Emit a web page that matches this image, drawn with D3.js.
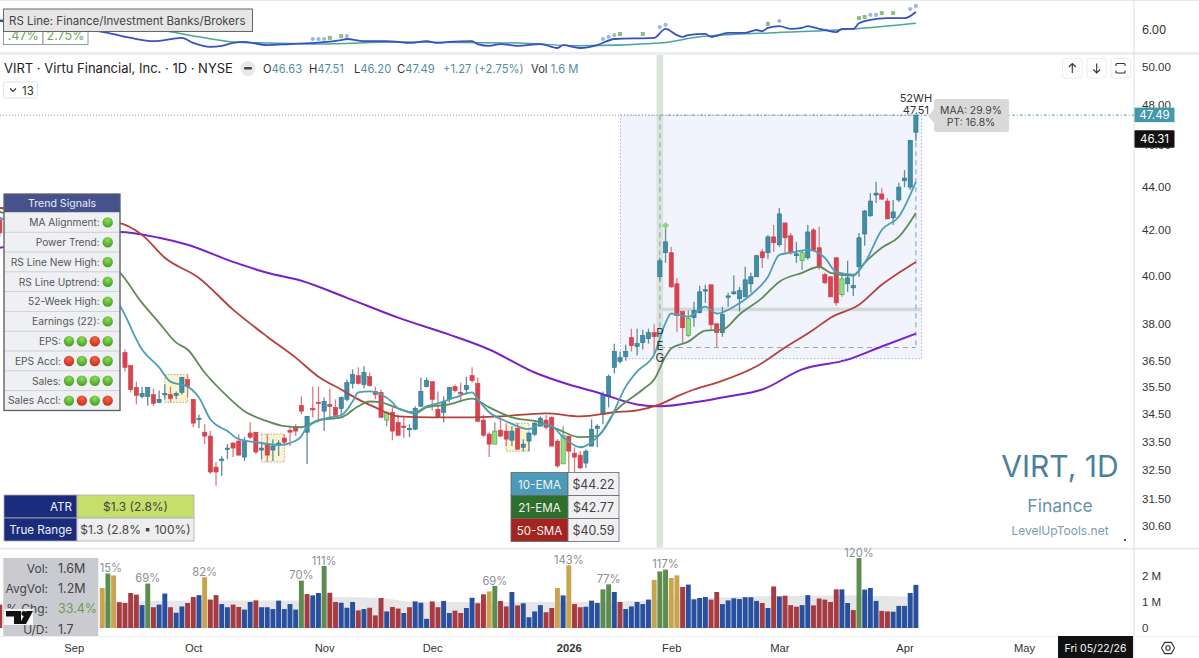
<!DOCTYPE html>
<html>
<head>
<meta charset="utf-8">
<script src="https://cdn.jsdelivr.net/npm/d3@7"></script>
<style>
  html, body { margin: 0; background: #fff; overflow: hidden; }
  svg { display: block; font-family: Inter, "Open Sans", sans-serif; }
  svg text { fill: #333; }
</style>
</head>
<body>
<svg id="chart" width="1199" height="658"></svg>
<script>
/* ------------------------------
  data
------------------------------ */

// 21 bars sit behind the signals panel and cannot be read
var hidden = Array(21).fill(null);

var opens = [42.46, ...hidden,
  36.84,36.33,35.49,35.15,35.15,35.22,34.93,35.22,35.22,35.19,
  35.30,35.79,35.04,34.30,33.83,33.69,32.59,32.83,33.22,33.44,
  33.51,32.94,33.80,33.83,33.19,33.40,33.19,33.37,33.62,33.90,
  34.01,34.81,33.83,34.70,34.93,34.60,34.85,34.74,34.70,35.04,
  35.64,35.94,35.60,35.90,35.34,35.30,34.27,34.56,34.19,34.05,
  33.94,33.94,34.78,35.52,35.71,34.67,34.56,35.04,35.52,35.30,
  35.41,35.94,35.64,34.27,33.76,33.40,33.90,33.87,33.54,33.97,
  33.29,33.51,33.76,34.05,34.27,34.37,33.51,32.70,33.69,33.08,
  33.01,32.73,33.33,33.97,34.48,35.15,36.26,36.49,36.68,37.43,
  37.08,37.23,37.39,37.63,39.95,40.99,40.99,39.65,38.49,37.51,
  38.24,38.45,39.36,39.61,37.99,37.63,39.10,39.23,39.02,39.10,
  39.65,39.95,41.03,40.99,41.69,41.34,42.32,41.74,40.86,40.64,
  40.77,42.00,41.21,40.04,39.95,40.77,39.19,39.65,39.48,40.38,
  41.82,42.64,43.60,43.65,43.32,42.55,43.37,44.27,43.97,46.63];

var highs = [42.60, ...hidden,
  36.96,36.33,35.71,35.52,35.49,35.45,35.37,35.60,35.52,35.34,
  35.90,35.98,35.04,34.48,34.12,33.87,32.77,32.97,33.40,33.47,
  33.76,33.65,34.19,33.83,33.44,33.76,33.58,33.54,33.76,34.05,
  34.12,35.15,34.41,35.52,35.52,35.11,35.45,35.04,35.15,35.79,
  36.18,36.26,36.30,36.06,35.52,35.41,34.60,34.74,34.48,34.41,
  34.12,34.78,35.87,35.87,35.71,35.34,35.15,35.52,35.60,35.67,
  35.90,36.26,35.87,34.48,33.83,34.19,34.37,34.12,34.05,34.16,
  33.58,33.83,34.19,34.41,34.45,34.41,33.58,34.05,33.69,33.29,
  33.15,33.22,34.30,34.12,35.34,35.98,37.19,36.88,37.15,37.79,
  37.79,37.75,37.79,37.99,40.77,42.09,41.25,39.90,38.53,38.53,
  38.90,39.57,39.61,39.61,37.99,38.69,39.27,40.00,39.52,40.38,
  40.12,40.90,41.16,41.78,42.23,43.00,42.32,41.87,41.47,41.08,
  42.23,42.09,42.14,40.12,39.95,40.77,40.04,40.64,40.04,41.87,
  42.91,43.69,44.22,43.92,43.46,43.37,44.18,44.78,46.26,47.51];

var lows = [41.70, ...hidden,
  36.10,35.30,34.85,35.07,34.81,34.78,34.89,35.04,34.93,35.04,
  35.22,35.11,34.01,33.97,33.40,32.35,31.95,32.28,32.87,32.94,
  33.01,32.80,33.58,33.05,32.87,32.77,32.80,32.98,33.33,33.33,
  33.69,34.48,32.70,34.37,34.19,33.87,34.30,34.37,34.37,34.96,
  35.45,35.60,35.45,35.52,35.04,34.37,34.05,33.54,33.69,33.62,
  33.65,33.90,34.78,35.49,34.63,34.37,34.19,34.93,35.30,34.93,
  35.22,35.67,34.19,33.65,32.94,33.40,33.65,33.33,33.33,33.19,
  33.15,33.15,33.69,34.05,33.94,33.33,32.56,32.70,32.42,32.42,
  32.52,32.56,33.33,33.29,34.12,34.74,36.02,36.41,36.52,36.88,
  36.72,36.96,37.19,36.76,39.78,40.55,39.48,37.67,37.23,37.47,
  37.87,38.41,38.85,37.75,37.04,37.47,38.69,39.19,38.49,39.10,
  39.27,39.95,40.33,40.73,41.03,41.25,40.99,40.90,40.55,40.25,
  40.68,41.08,40.25,39.65,39.10,38.73,39.10,39.31,39.14,39.95,
  41.30,42.60,43.23,43.37,42.50,42.23,43.28,43.97,43.83,46.20];

var closes = [41.87, ...hidden,
  36.26,35.41,35.19,35.26,35.49,34.89,35.04,35.26,35.07,35.26,
  35.87,35.52,34.16,34.34,33.69,32.42,32.42,32.87,33.26,33.26,
  33.01,33.54,33.65,33.12,33.26,33.01,33.33,33.44,33.47,33.83,
  33.87,34.60,34.41,34.67,34.89,34.96,34.78,34.45,35.11,35.67,
  35.98,35.64,36.06,35.56,35.22,34.37,34.56,33.87,33.72,34.01,
  33.97,34.70,35.34,35.75,35.04,34.37,34.93,35.49,35.37,35.26,
  35.56,35.75,34.23,33.72,33.40,33.87,33.69,33.58,33.87,33.22,
  33.40,33.80,34.16,34.34,34.01,33.33,32.63,33.72,33.15,32.94,
  32.56,33.15,33.94,34.05,35.22,35.90,36.88,36.64,36.88,37.11,
  37.19,37.51,37.63,37.47,40.64,41.47,39.52,38.32,37.83,38.20,
  38.53,39.31,39.40,37.95,37.63,38.37,39.14,39.31,39.36,39.82,
  39.95,40.86,40.77,41.69,41.43,42.73,41.65,41.03,40.94,40.99,
  41.91,41.08,40.38,39.69,39.10,38.85,39.86,39.90,39.57,41.65,
  42.86,43.32,43.69,43.41,42.50,42.82,43.97,44.40,46.22,47.49];

var limeBars = [68, 87, 99, 121, 141, 148];

// volume in millions, R down / B up / G big / Y pocket
var volumes = [0.89, ...Array(17).fill(null),
  1.52,2.07,2.00,0.98,0.95,1.33,1.27,0.87,1.69,0.79,0.89,1.31,0.79,0.58,0.82,0.95,1.18,1.25,1.93,1.08,
  1.25,0.91,0.79,0.89,0.80,0.70,0.99,1.05,0.79,0.79,0.72,1.04,0.72,0.91,0.70,1.80,1.29,1.24,1.33,2.36,
  1.34,0.99,0.96,0.77,0.99,0.67,0.72,0.77,0.48,1.14,0.63,0.80,0.74,0.57,0.79,1.01,0.96,0.35,1.01,0.79,
  1.03,0.57,0.66,0.57,0.76,1.15,0.94,1.28,1.39,1.60,1.03,0.82,1.37,0.86,0.94,0.41,0.63,0.87,0.60,0.76,
  1.52,1.24,2.38,0.91,0.79,0.81,1.04,0.95,1.47,1.66,1.37,0.99,0.72,0.82,0.99,0.91,1.08,1.83,2.15,2.22,
  1.90,2.00,1.56,1.65,1.09,1.14,1.18,1.08,1.37,0.91,1.05,1.13,1.10,1.17,1.17,1.03,0.95,0.76,1.58,1.20,
  1.23,0.87,0.81,0.87,1.25,0.86,1.12,1.08,0.99,1.47,1.47,0.95,0.68,2.66,1.46,1.52,1.03,0.65,0.63,0.62,
  0.84,0.84,1.33,1.64];

var volumeKinds = ("R" + " ".repeat(17) +
  "YGYRRRRBGRBBRBBRRBYR" +
  "RBBRRBBRBBBBBBBGRBBG" +
  "RRBBBRBRRRBRRBRBBBRR" +
  "BBRRBBRRYGRRBRBBBBRR" +
  "YBYRRBBBGGBRBBBBBYGG" +
  "YYRBBBBRRBBBBBBBRBRB" +
  "RRRBBRRRRRBBRGBBBRRB" +
  "BBBB").split("");

var volumeAvgBars = [18, 30, 53, 58, 67, 72, 87, 103, 128, 141, 150, 161];
var volumeAvgValues = [1.00, 1.04, 1.05, 1.18, 1.14, 1.01, 0.99, 0.99, 1.17, 1.23, 1.24, 1.18];

var volumeLabelBars = [19, 26, 36, 53, 57, 87, 100, 107, 117, 151];
var volumeLabels = ["15%", "69%", "82%", "70%", "111%", "69%", "143%", "77%", "117%", "120%"];

var ema10Bars = [0,21,25,28,30,33,35,37,40,42,45,49,51,53,54,58,60,62,63,65,67,69,70,73,75,77,80,83,84,86,89,93,95,97,99,102,104,107,110,112,115,117,118,121,124,126,129,132,135,137,139,142,145,147,150,152,155,158,161];
var ema10Values = [42.55,38.77,36.96,36.26,35.71,35.52,35.11,34.30,33.87,33.58,33.47,33.37,33.44,33.69,34.01,34.37,34.45,34.96,35.30,35.34,35.22,34.93,34.70,34.56,34.78,34.89,35.11,35.30,35.04,34.56,34.23,33.94,34.12,34.05,33.65,33.29,33.47,34.19,35.52,36.10,36.76,38.03,38.41,38.28,38.69,38.41,38.69,39.19,39.95,40.90,40.99,41.12,40.77,40.16,40.04,40.55,42.00,42.60,44.22];

var ema21Bars = [0,21,25,28,31,33,36,40,43,47,50,53,56,60,63,65,67,70,73,75,79,83,86,90,95,98,102,105,108,113,115,117,118,121,124,127,130,134,137,141,144,146,150,152,155,158,161];
var ema21Values = [42.82,40.16,38.85,38.03,37.23,36.96,36.06,35.15,34.60,34.23,34.05,34.01,34.27,34.37,34.78,34.96,34.93,34.70,34.52,34.74,34.85,35.07,34.74,34.37,34.19,33.94,33.65,33.69,34.56,35.41,35.79,36.68,37.00,37.27,37.71,37.75,38.37,39.06,39.74,40.12,40.38,40.12,40.00,40.55,41.21,41.69,42.77];

var sma50Bars = [0,21,25,29,35,41,47,52,56,60,63,66,70,76,82,88,96,102,108,112,116,119,122,126,133,138,143,146,151,155,158,161];
var sma50Values = [43.00,42.32,41.78,40.77,39.90,38.57,37.47,36.64,35.90,35.41,35.04,34.74,34.41,34.37,34.37,34.41,34.52,34.41,34.56,34.63,34.85,35.15,35.41,35.67,36.30,37.04,37.75,38.24,38.77,39.61,40.12,40.59];

var sma200Bars = [0,21,28,33,41,47,53,61,70,79,86,94,100,105,112,116,123,128,134,141,149,155,161];
var sma200Values = [41.21,41.91,41.65,41.34,40.59,40.12,39.78,39.06,38.24,37.55,36.96,36.06,35.60,35.30,34.85,34.78,34.96,35.15,35.41,36.18,36.56,37.08,37.59];

var rsBars = [0,19,23,27,32,34,37,39,41,43,47,51,56,60,61,64,68,70,72,75,77,79,83,84,86,88,91,95,98,99,102,105,108,115,117,119,120,121,124,125,128,131,133,134,135,137,139,141,142,144,145,147,148,150,151,153,156,159,161];
var rsValues = [6.25,5.92,5.78,5.69,5.78,5.64,5.53,5.56,5.64,5.67,5.58,5.61,5.65,5.72,5.75,5.69,5.69,5.67,5.64,5.69,5.64,5.67,5.69,5.61,5.56,5.61,5.56,5.61,5.50,5.58,5.50,5.58,5.75,5.78,6.03,5.86,5.81,5.86,5.89,5.81,5.92,5.92,6.00,5.97,6.06,6.11,6.03,6.06,6.11,6.03,6.00,5.94,6.03,6.03,6.19,6.28,6.33,6.33,6.50];

var rsMaBars = [0,28,35,41,47,56,70,91,102,116,123,135,150,161];
var rsMaValues = [6.28,6.00,5.81,5.67,5.64,5.61,5.67,5.64,5.56,5.64,5.81,5.92,6.03,6.19];

var rsDotBars = [55,56,57,61,106,107,108,116,117,137,153,154,160,161];
var rsDotValues = [5.75,5.75,5.75,5.83,5.75,5.81,5.86,6.08,6.14,6.25,6.42,6.42,6.58,6.67];
var rsSquareBars = [58,60,109,113,135,151,152,155,157];
var rsSquareValues = [5.78,5.83,5.89,5.89,6.17,6.33,6.36,6.47,6.47];

var priceTicks = [50, 48, 46, 44, 42, 40, 38, 36.5, 35.5, 34.5, 33.5, 32.5, 31.5, 30.6];
var volumeTicks = [0, 1, 2];
var monthBars = [13, 34, 57, 76, 100, 118, 137, 159, 180];
var monthLabels = ["Sep", "Oct", "Nov", "Dec", "2026", "Feb", "Mar", "Apr", "May"];

var signalNames = ["MA Alignment:", "Power Trend:", "RS Line New High:", "RS Line Uptrend:", "52-Week High:", "Earnings (22):", "EPS:", "EPS Accl:", "Sales:", "Sales Accl:"];
var signalStates = ["G", "G", "G", "G", "G", "G", "GGRG", "RGRG", "GGGG", "GRGR"];

var maNames = ["10-EMA", "21-EMA", "50-SMA"];
var maPrices = ["$44.22", "$42.77", "$40.59"];

var statNames = ["Vol:", "AvgVol:", "% Chg:", "U/D:"];
var statValues = ["1.6M", "1.2M", "33.4%", "1.7"];

var pivotPrice = 47.49, crossPrice = 46.31, boxBottom = 36.6, baseLow = 37.04, baseLine = 38.57;


/* ------------------------------
  scales
------------------------------ */

var svg = d3.select("#chart");
var axisX = 1134, paneBottom = 636;

var x = d3.scaleLinear().domain([0, 161]).range([-0.2, 915.9]);
var y = d3.scaleLog().domain([50, 30.6]).range([67, 526]);
var volY = d3.scaleLinear().domain([0, 2]).range([628, 575.4]);
var rsY = d3.scaleLinear().domain([6, 5.5]).range([30, 48]);

var bars = d3.range(opens.length).filter(function(i) { return opens[i] !== null; });
var curve = d3.curveMonotoneX;

function zipLine(xs, ys, scale) {
  return d3.line().curve(curve)
    .x(function(d) { return x(d); })
    .y(function(d, i) { return scale(ys[i]); })(xs);
}

function text(g, px, py, str, size, anchor, color, weight) {
  return g.append("text").attr("x", px).attr("y", py).text(str)
    .attr("font-size", size).attr("text-anchor", anchor || "start")
    .style("fill", color || "#333").attr("font-weight", weight || 400);
}


/* ------------------------------
  pane frames
------------------------------ */

svg.append("rect").attr("width", 1199).attr("height", 1).attr("fill", "#e8e8e8");
[[52, 3], [547.5, 2.5], [636, 1]].forEach(function(s) {
  svg.append("rect").attr("x", 0).attr("y", s[0]).attr("width", 1199).attr("height", s[1]).attr("fill", "#eeeff1");
});
svg.append("line").attr("x1", axisX).attr("x2", axisX).attr("y1", 0).attr("y2", 658).attr("stroke", "#dcdfe4");


/* ------------------------------
  RS pane
------------------------------ */

var rs = svg.append("g");
rs.append("path").attr("d", zipLine(rsMaBars, rsMaValues, rsY)).attr("fill", "none").attr("stroke", "#47a79c").attr("stroke-width", 1.5);
rs.append("path").attr("d", zipLine(rsBars, rsValues, rsY)).attr("fill", "none").attr("stroke", "#3a4fc0").attr("stroke-width", 1.8);
rs.selectAll(".rs-dot").data(rsDotBars).join("circle")
  .attr("cx", function(d) { return x(d); })
  .attr("cy", function(d, i) { return rsY(rsDotValues[i]); })
  .attr("r", 2.1).attr("fill", "#9db8e6");
rs.selectAll(".rs-sq").data(rsSquareBars).join("rect")
  .attr("x", function(d) { return x(d) - 2; })
  .attr("y", function(d, i) { return rsY(rsSquareValues[i]) - 2; })
  .attr("width", 4).attr("height", 4).attr("fill", "#8fbd7c");
text(rs, 1142, 34, "6.00", 11.5);

// small readout boxes under the tooltip
[[3.5, 39.5, ".47%"], [43, 45, "2.75%"]].forEach(function(b) {
  rs.append("rect").attr("x", b[0]).attr("y", 30).attr("width", b[1]).attr("height", 14.5)
    .attr("fill", "#fff").attr("stroke", "#999");
  text(rs, b[0] + b[1] / 2, 40, b[2], 12.5, "middle", "#6aa84f");
});
rs.append("rect").attr("x", 3.5).attr("y", 9).attr("width", 249).attr("height", 22.5)
  .attr("fill", "#e6e6e6").attr("stroke", "#666");
text(rs, 9, 25, "RS Line: Finance/Investment Banks/Brokers", 11.5, "start", "#444");


/* ------------------------------
  price pane
------------------------------ */

var pane = svg.append("g");

// pivot box
pane.append("rect").attr("x", x(109) + 0.5).attr("y", y(pivotPrice))
  .attr("width", x(161) + 5.8 - x(109) - 0.5).attr("height", y(boxBottom) - y(pivotPrice))
  .attr("fill", "#f1f4fc").attr("stroke", "#aab3de").attr("stroke-dasharray", "1.5 2");

// earnings day band
pane.append("rect").attr("x", x(116) - 3.3).attr("y", 55).attr("width", 6.6).attr("height", 492.5)
  .attr("fill", "#cfdccf").attr("opacity", 0.7);

pane.append("line").attr("x1", 0).attr("x2", x(116)).attr("y1", y(pivotPrice)).attr("y2", y(pivotPrice))
  .attr("stroke", "#999").attr("stroke-dasharray", "1 2");
pane.append("line").attr("x1", x(116)).attr("x2", axisX).attr("y1", y(pivotPrice)).attr("y2", y(pivotPrice))
  .attr("stroke", "#5e98ab").attr("stroke-dasharray", "3 2 1 2");
pane.append("rect").attr("x", x(116)).attr("y", y(baseLine) - 2).attr("width", x(161) + 5.8 - x(116)).attr("height", 3.6)
  .attr("fill", "#d3d9da");

[[116, 116, pivotPrice, baseLow], [161, 161, pivotPrice, baseLow], [116, 161, baseLow, baseLow]].forEach(function(s) {
  pane.append("line").attr("x1", x(s[0])).attr("x2", x(s[1])).attr("y1", y(s[2])).attr("y2", y(s[3]))
    .attr("stroke", "#8fa6b2").attr("stroke-width", 1.1).attr("stroke-dasharray", "5 4");
});

// tight-range boxes, from the highs and lows of their bars
[[29, 33], [46, 50], [89, 93]].forEach(function(b) {
  var span = d3.range(b[0], b[1] + 1);
  var top = y(d3.max(span, function(i) { return highs[i]; }));
  var bottom = y(d3.min(span, function(i) { return lows[i]; }));
  pane.append("rect").attr("x", x(b[0])).attr("y", top).attr("width", x(b[1]) - x(b[0])).attr("height", bottom - top)
    .attr("fill", "#fbf4cd").attr("stroke", "#a9a99a").attr("stroke-dasharray", "1.5 1.5");
});

function isLime(i) { return limeBars.indexOf(i) >= 0; }
function isUp(i) { return closes[i] >= opens[i]; }

// wicks
pane.selectAll(".wick").data(bars).join("line")
  .attr("x1", function(i) { return x(i); }).attr("x2", function(i) { return x(i); })
  .attr("y1", function(i) { return y(highs[i]); }).attr("y2", function(i) { return y(lows[i]); })
  .attr("stroke", function(i) { return isLime(i) ? "#7f9e80" : isUp(i) ? "#5d8c9b" : "#dc7a82"; })
  .attr("stroke-width", 1.3);

// bodies
pane.selectAll(".body").data(bars).join("rect")
  .attr("x", function(i) { return x(i) - 2.1; })
  .attr("width", 4.2)
  .attr("y", function(i) { return y(Math.max(opens[i], closes[i])); })
  .attr("height", function(i) { return Math.max(1.4, y(Math.min(opens[i], closes[i])) - y(Math.max(opens[i], closes[i]))); })
  .attr("fill", function(i) { return isLime(i) ? "#8fe27a" : isUp(i) ? "#3f8fa9" : "#d9434f"; })
  .attr("stroke", function(i) { return isLime(i) ? "#4f8f58" : isUp(i) ? "#2f6f87" : "#c8414c"; })
  .attr("stroke-width", 0.6);

// moving averages
[[sma200Bars, sma200Values, "#7a22c6", 2], [sma50Bars, sma50Values, "#b3423c", 1.8],
 [ema21Bars, ema21Values, "#5f8b57", 1.8], [ema10Bars, ema10Values, "#4c9fb8", 1.8]].forEach(function(m) {
  pane.append("path").attr("d", zipLine(m[0], m[1], y)).attr("fill", "none")
    .attr("stroke", m[2]).attr("stroke-width", m[3]);
});

// gap marker and letters
pane.append("path").attr("transform", "translate(" + x(117) + "," + y(42.2) + ") rotate(45)")
  .attr("d", d3.symbol(d3.symbolSquare, 26)()).attr("fill", "#8fd48f");
["P", "E", "G"].forEach(function(c, i) {
  text(pane, x(116), 337 + i * 12.5, c, 11.5, "middle", "#333");
});

// 52-week high labels and bubble
text(pane, x(161), 102, "52WH", 11, "middle");
text(pane, x(161), 114, "47.51", 11, "middle");
pane.append("path").attr("d", "M928 116L934 109V101Q934 99 936 99H1007Q1009 99 1009 101V130Q1009 132 1007 132H936Q934 132 934 130V123Z")
  .attr("fill", "#d9d9d9");
text(pane, 971, 114, "MAA: 29.9%", 10.4, "middle", "#444");
text(pane, 971, 126, "PT: 16.8%", 10.4, "middle", "#444");

// header
text(pane, 4, 73, "VIRT · Virtu Financial, Inc. · 1D · NYSE", 13, "start", "#222");
pane.append("circle").attr("cx", 248).attr("cy", 68.5).attr("r", 7.5).attr("fill", "#e9e9e9");
pane.append("rect").attr("x", 244).attr("y", 67).attr("width", 8).attr("height", 2.6).attr("rx", 1).attr("fill", "#444");

[[263, "O", "46.63"], [309, "H", "47.51"], [354, "L", "46.20"], [397, "C", "47.49"], [443, "", "+1.27 (+2.75%)"], [531, "Vol ", "1.6 M"]].forEach(function(t) {
  var piece = text(pane, t[0], 73, t[1], 11.2, "start", "#333");
  piece.append("tspan").text(t[2]).style("fill", "#4f8ea3");
});

pane.append("rect").attr("x", 3.5).attr("y", 82).attr("width", 34).attr("height", 16).attr("rx", 2)
  .attr("fill", "#fff").attr("stroke", "#e3e5ea");
pane.append("path").attr("d", "M10 88.5L13 91.5L16 88.5").attr("fill", "none").attr("stroke", "#333").attr("stroke-width", 1.1);
text(pane, 22, 94.5, "13", 11.5);

// toolbar buttons
var buttons = svg.append("g").attr("fill", "none").attr("stroke", "#333").attr("stroke-width", 1.1);
[1062.5, 1087, 1111].forEach(function(bx) {
  buttons.append("rect").attr("x", bx).attr("y", 58.5).attr("width", 19.5).attr("height", 19.5).attr("rx", 3).attr("stroke", "#eceef1");
});
buttons.append("path").attr("d", "M1072.3 73V63.5M1068.8 67L1072.3 63.5L1075.8 67");
buttons.append("path").attr("d", "M1096.7 63.5V73M1093.2 69.5L1096.7 73L1100.2 69.5");
buttons.append("path").attr("d", "M1116 66V64.5Q1116 63.5 1117 63.5H1124Q1125 63.5 1125 64.5V66M1116 70.5V72Q1116 73 1117 73H1124Q1125 73 1125 72V70.5");

// watermark
text(pane, 1060, 477, "VIRT, 1D", 30, "middle", "#4a7f9f");
text(pane, 1060, 512, "Finance", 17.5, "middle", "#6a93ad");
text(pane, 1060, 535, "LevelUpTools.net", 12, "middle", "#7c9db3");
pane.append("circle").attr("cx", 1125).attr("cy", 540).attr("r", 1).attr("fill", "#222");


/* ------------------------------
  volume pane
------------------------------ */

var vol = svg.append("g");
var avgArea = d3.area().curve(curve)
  .x(function(d) { return x(d); })
  .y0(volY(0))
  .y1(function(d, i) { return volY(volumeAvgValues[i]); });
vol.append("path").attr("d", avgArea(volumeAvgBars)).attr("fill", "#e6e6e8");

var volColors = { R: "#a63c42", B: "#28509f", G: "#5c8d4f", Y: "#c9a44f" };
var volBars = d3.range(volumes.length).filter(function(i) { return volumes[i] !== null; });
vol.selectAll(".vol").data(volBars).join("rect")
  .attr("x", function(i) { return x(i) - 2.45; })
  .attr("width", 4.9)
  .attr("y", function(i) { return volY(volumes[i]); })
  .attr("height", function(i) { return volY(0) - volY(volumes[i]); })
  .attr("fill", function(i) { return volColors[volumeKinds[i]]; });

volumeLabelBars.forEach(function(b, i) {
  var shift = volumeLabels[i] === "15%" ? 3 : 0;
  text(vol, x(b) + shift, volY(volumes[b]) - 1.2, volumeLabels[i], 11.2, "middle", "#8c8f94");
});


/* ------------------------------
  axes
------------------------------ */

function cleanAxis(g) {
  g.select(".domain").remove();
  g.selectAll(".tick line").remove();
  g.selectAll("text").style("fill", "#333").attr("font-size", 11.5).attr("font-family", "inherit");
}

svg.append("g").attr("transform", "translate(" + axisX + ",0)")
  .call(d3.axisRight(y).tickValues(priceTicks).tickFormat(d3.format(".2f")).tickSize(0).tickPadding(8))
  .call(cleanAxis);

svg.append("g").attr("transform", "translate(" + axisX + ",0)")
  .call(d3.axisRight(volY).tickValues(volumeTicks).tickFormat(function(d) { return d ? d + " M" : "0"; }).tickSize(0).tickPadding(8))
  .call(cleanAxis);

svg.append("g").attr("transform", "translate(0,636)")
  .call(d3.axisBottom(x).tickValues(monthBars).tickFormat(function(d, i) { return monthLabels[i]; }).tickSize(0).tickPadding(8))
  .call(cleanAxis)
  .call(function(g) {
    g.selectAll("text").attr("font-size", 11.2)
      .attr("font-weight", function(d, i) { return monthLabels[i] === "2026" ? 700 : 400; });
  });

// price tags
var tags = svg.append("g");
tags.append("rect").attr("x", axisX + 0.5).attr("y", y(pivotPrice) - 7.5).attr("width", 40).attr("height", 14.5).attr("fill", "#4597ac");
text(tags, axisX + 20.5, y(pivotPrice) + 4, d3.format(".2f")(pivotPrice), 11.5, "middle", "#fff");
tags.append("rect").attr("x", axisX + 0.5).attr("y", y(crossPrice) - 8.5).attr("width", 40).attr("height", 17.5).attr("rx", 1).attr("fill", "#111");
text(tags, axisX + 20.5, y(crossPrice) + 4.5, d3.format(".2f")(crossPrice), 11.5, "middle", "#fff");

tags.append("rect").attr("x", 1058).attr("y", 636).attr("width", 75).attr("height", 22).attr("fill", "#111");
text(tags, 1095.5, 651.5, "Fri 05/22/26", 10.5, "middle", "#fff");

// settings icon
tags.append("path").attr("d", d3.line().curve(d3.curveLinearClosed)(d3.range(6).map(function(k) {
  var a = k * Math.PI / 3;
  return [1168 + 6.5 * Math.cos(a), 648 + 6.5 * Math.sin(a)];
}))).attr("fill", "none").attr("stroke", "#333").attr("stroke-width", 1.1);
tags.append("circle").attr("cx", 1168).attr("cy", 648).attr("r", 2.2).attr("fill", "none").attr("stroke", "#333").attr("stroke-width", 1.1);


/* ------------------------------
  overlay panels
------------------------------ */

// trend signals
var panel = svg.append("g");
var panelX = 4, panelW = 116, rowH = 19.8, headH = 18.5, panelY = 194;
var defs = svg.append("defs");
[["ballG", "#8fdc58", "#3c9a22"], ["ballR", "#f0654a", "#c9281a"]].forEach(function(g) {
  var grad = defs.append("radialGradient").attr("id", g[0]).attr("cx", "0.5").attr("cy", "0.3").attr("r", "0.75");
  grad.append("stop").attr("offset", "0").attr("stop-color", g[1]);
  grad.append("stop").attr("offset", "1").attr("stop-color", g[2]);
});

panel.append("rect").attr("x", panelX).attr("y", panelY).attr("width", panelW).attr("height", headH).attr("fill", "#45528d");
text(panel, panelX + panelW / 2, panelY + 13, "Trend Signals", 10.6, "middle", "#e8ebf5");

signalNames.forEach(function(name, r) {
  var ry = panelY + headH + r * rowH;
  panel.append("rect").attr("x", panelX).attr("y", ry).attr("width", panelW).attr("height", rowH)
    .attr("fill", "#eff0f3").attr("stroke", "#cfcfd2").attr("stroke-width", 0.8);
  var states = signalStates[r].split("");
  var right = 107.7;
  states.forEach(function(s, k) {
    panel.append("circle").attr("cx", right - (states.length - 1 - k) * 12.9).attr("cy", ry + rowH / 2).attr("r", 5.2)
      .attr("fill", s === "G" ? "url(#ballG)" : "url(#ballR)");
  });
  var textRight = right - (states.length - 1) * 12.9 - 8;
  text(panel, textRight, ry + rowH / 2 + 3.8, name, 10.2, "end", "#555");
});
panel.append("rect").attr("x", panelX).attr("y", panelY).attr("width", panelW).attr("height", headH + rowH * 10)
  .attr("fill", "none").attr("stroke", "#5c5f66").attr("stroke-width", 1.3);

// ATR table
var atr = svg.append("g");
[["ATR", "$1.3 (2.8%)", "#c6df6b"], ["True Range", "$1.3 (2.8% ▪ 100%)", "#eeeeee"]].forEach(function(r, k) {
  var ry = 495 + k * 23;
  atr.append("rect").attr("x", 4).attr("y", ry).attr("width", 73).attr("height", 23).attr("fill", "#1c2c7d").attr("stroke", "#aaa").attr("stroke-width", 0.8);
  atr.append("rect").attr("x", 77).attr("y", ry).attr("width", 117).attr("height", 23).attr("fill", r[2]).attr("stroke", "#aaa").attr("stroke-width", 0.8);
  text(atr, 72, ry + 16, r[0], 11.6, "end", "#eef0f8");
  text(atr, 135.5, ry + 16, r[1], 12, "middle", "#444");
});

// moving-average table
var maTable = svg.append("g");
var maColors = ["#4a9ab8", "#2f6f2c", "#a5241f"];
maNames.forEach(function(name, k) {
  var ry = 472.5 + k * 23;
  maTable.append("rect").attr("x", 511).attr("y", ry).attr("width", 57).attr("height", 23).attr("fill", maColors[k]).attr("stroke", "#666").attr("stroke-width", 0.8);
  maTable.append("rect").attr("x", 568).attr("y", ry).attr("width", 51).attr("height", 23).attr("fill", "#f1f1f3").attr("stroke", "#666").attr("stroke-width", 0.8);
  text(maTable, 539.5, ry + 16, name, 11.6, "middle", "#f2f2f2");
  text(maTable, 593.5, ry + 16, maPrices[k], 12.4, "middle", "#444");
});

// volume stats
var stats = svg.append("g");
stats.append("rect").attr("x", 3.3).attr("y", 558).attr("width", 95).attr("height", 78).attr("fill", "#cacbd0");
statNames.forEach(function(name, k) {
  var ry = 573 + k * 20.2;
  text(stats, 48, ry, name, 12, "end", "#444");
  text(stats, 58, ry, statValues[k], 12.5, "start", k === 2 ? "#6d9a55" : "#444");
});

// TradingView mark
var tv = svg.append("g");
tv.append("rect").attr("x", 4).attr("y", 609).attr("width", 29).attr("height", 16).attr("fill", "#fff").attr("opacity", 0.85);
tv.append("path").attr("d", "M6 611H21V624H14V616.5H6Z").attr("fill", "#111");
tv.append("circle").attr("cx", 24).attr("cy", 613.6).attr("r", 2.5).attr("fill", "#111");
tv.append("path").attr("d", "M26.5 611H33L26 624H19.5Z").attr("fill", "#111");
</script>
</body>
</html>
